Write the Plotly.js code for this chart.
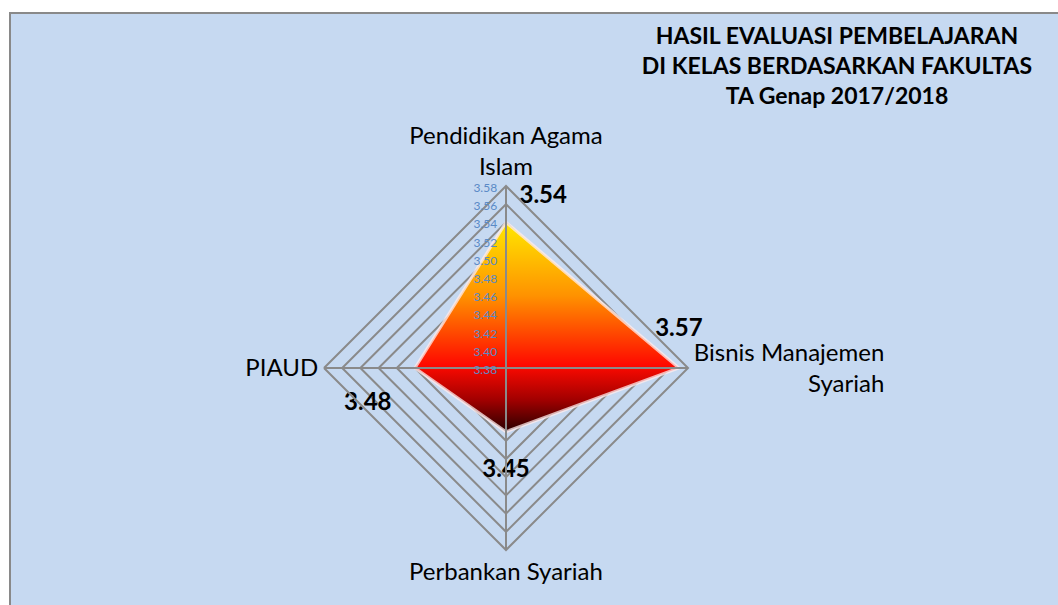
<!DOCTYPE html>
<html>
<head>
<meta charset="utf-8">
<script src="https://cdn.plot.ly/plotly-3.0.1.min.js"></script>
<style>
  html, body { margin: 0; padding: 0; background: #ffffff; }
  #chart { width: 1058px; height: 605px; }
</style>
</head>
<body>
<div id="chart"></div>
<script>
// ---- data ----
const categories = ['Pendidikan Agama<br>Islam', 'Bisnis Manajemen<br>Syariah', 'Perbankan Syariah', 'PIAUD'];
const scores = [3.54, 3.57, 3.45, 3.48];
const radialRange = [3.38, 3.58];
const radialStep = 0.02;
const titleLines = ['HASIL EVALUASI PEMBELAJARAN', 'DI KELAS BERDASARKAN FAKULTAS', 'TA Genap 2017/2018'];

const FONT = 'Lato, "Open Sans", sans-serif';
const GRID = '#8a8a8a';

// closed polygon
const thetaClosed = categories.concat([categories[0]]);
const rClosed = scores.concat([scores[0]]);
const labels = scores.map(v => v.toFixed(2)).concat(['']);

// spokes above the fill (center -> outer ring for every category)
const spokeTheta = [], spokeR = [];
categories.forEach(c => { spokeTheta.push(c, c, c); spokeR.push(radialRange[0], radialRange[1], null); });

const cx = 506, cy = 368, rad = 182, W = 1058, H = 605;

const traces = [
  {
    type: 'scatterpolar',
    theta: thetaClosed,
    r: rClosed,
    mode: 'lines+markers+text',
    fill: 'toself',
    fillcolor: '#ff3000',
    line: { color: 'rgba(255,235,235,0.75)', width: 3 },
    marker: { size: [20, 40, 42, 36, 0], color: 'rgba(0,0,0,0)', line: { width: 0, color: 'rgba(0,0,0,0)' } },
    text: labels,
    textposition: ['top right', 'top center', 'bottom center', 'bottom left', 'top center'],
    textfont: { family: FONT, size: 24, color: '#000000', weight: 'bold' },
    hoverinfo: 'skip',
    showlegend: false
  },
  {
    type: 'scatterpolar',
    theta: spokeTheta,
    r: spokeR,
    mode: 'lines',
    line: { color: GRID, width: 2 },
    hoverinfo: 'skip',
    showlegend: false,
    connectgaps: false
  }
];

const layout = {
  width: W, height: H,
  margin: { l: 0, r: 0, t: 0, b: 0 },
  paper_bgcolor: '#ffffff',
  showlegend: false,
  title: {
    text: '<b>' + titleLines.join('<br>') + '</b>',
    x: 837 / W, xanchor: 'center', xref: 'paper',
    y: 1 - 44 / H, yanchor: 'top', yref: 'paper',
    font: { family: FONT, size: 23, color: '#000000' }
  },
  shapes: [{
    type: 'rect', xref: 'paper', yref: 'paper', layer: 'below',
    x0: 10 / W, x1: 1.02, y0: -0.02, y1: 1 - 13 / H,
    fillcolor: '#c6d9f1', line: { color: '#898989', width: 2 }
  }],
  polar: {
    domain: { x: [(cx - rad) / W, (cx + rad) / W], y: [(H - cy - rad) / H, (H - cy + rad) / H] },
    bgcolor: 'rgba(0,0,0,0)',
    gridshape: 'linear',
    angularaxis: {
      type: 'category',
      direction: 'clockwise', rotation: 90,
      showline: true, linecolor: GRID, linewidth: 2,
      showgrid: true, gridcolor: GRID, gridwidth: 2,
      ticks: '',
      tickfont: { family: FONT, size: 24, color: '#000000' }
    },
    radialaxis: {
      range: radialRange, dtick: radialStep, tick0: radialRange[0],
      tickformat: '.2f',
      angle: 90, side: 'counterclockwise',
      showline: false, ticks: '',
      showgrid: true, gridcolor: GRID, gridwidth: 2,
      tickfont: { family: FONT, size: 12, color: '#5a8ac6' },
      layer: 'above traces'
    }
  }
};

const SVGNS = 'http://www.w3.org/2000/svg';

function applyGradient() {
  const gd = document.getElementById('chart');
  const svg = gd.querySelector('svg.main-svg');
  if (!svg) return;
  let defs = svg.querySelector('defs');
  if (!defs) { defs = document.createElementNS(SVGNS, 'defs'); svg.insertBefore(defs, svg.firstChild); }
  if (!defs.querySelector('#areaGrad')) {
    const g = document.createElementNS(SVGNS, 'linearGradient');
    g.setAttribute('id', 'areaGrad');
    g.setAttribute('x1', '0'); g.setAttribute('y1', '0'); g.setAttribute('x2', '0'); g.setAttribute('y2', '1');
    [[0, '#ffe800'], [0.35, '#ff9200'], [0.68, '#ff0a00'], [0.85, '#a00000'], [1, '#2a0000']].forEach(s => {
      const st = document.createElementNS(SVGNS, 'stop');
      st.setAttribute('offset', s[0]); st.setAttribute('stop-color', s[1]);
      g.appendChild(st);
    });
    defs.appendChild(g);
  }
  const fills = gd.querySelectorAll('.polarlayer .trace path.js-fill');
  if (fills.length) fills[0].style.fill = 'url(#areaGrad)';

  // right-align the two-line label on the right side (as in the original)
  const texts = Array.from(gd.querySelectorAll('.polarlayer text'));
  const t = texts.find(el => el.textContent.indexOf('Bisnis') === 0);
  if (t && !t.dataset.aligned) {
    const bb = t.getBBox();
    const x0 = parseFloat(t.getAttribute('x')) || 0;
    const xe = x0 + bb.width;
    t.setAttribute('text-anchor', 'end');
    t.style.textAnchor = 'end';
    t.setAttribute('x', xe);
    t.querySelectorAll('tspan').forEach(ts => { if (ts.hasAttribute('x')) ts.setAttribute('x', xe); });
    t.dataset.aligned = '1';
  }
}

Plotly.newPlot('chart', traces, layout, { displayModeBar: false, staticPlot: true }).then(() => {
  applyGradient();
  document.getElementById('chart').on('plotly_afterplot', applyGradient);
});
</script>
</body>
</html>
